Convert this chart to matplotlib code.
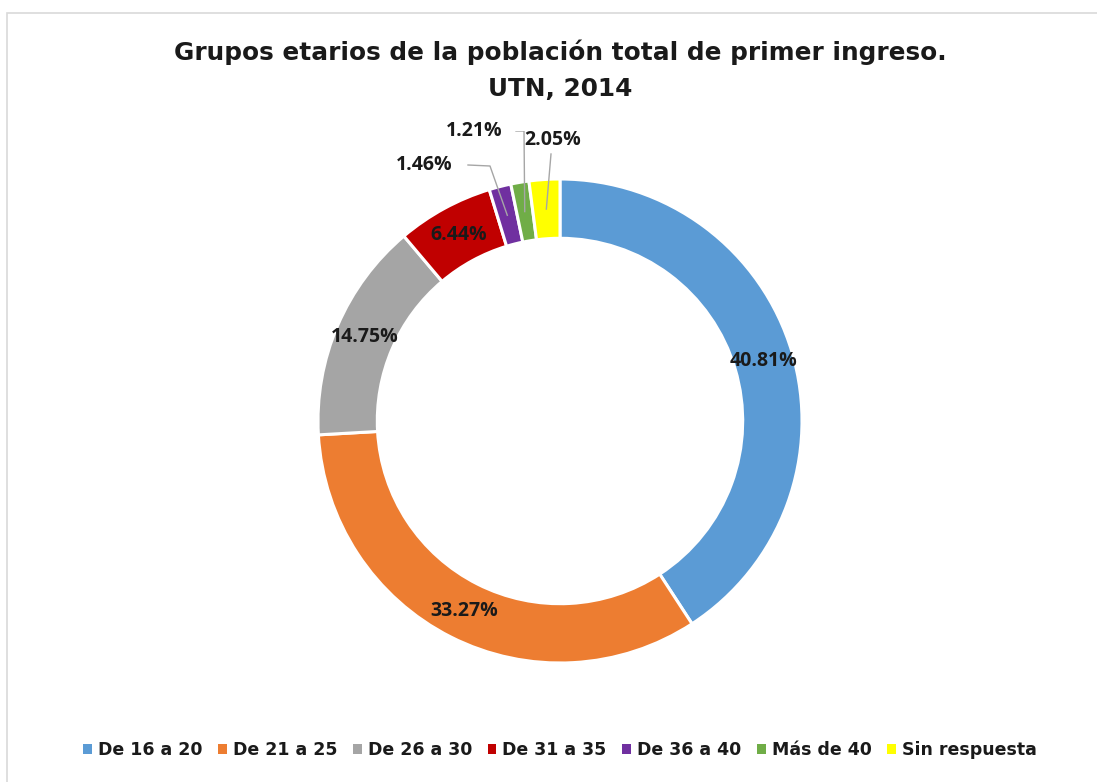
import matplotlib
matplotlib.use("Agg")
import matplotlib.pyplot as plt
import numpy as np
from matplotlib.patches import Rectangle

categories = ["De 16 a 20", "De 21 a 25", "De 26 a 30", "De 31 a 35",
              "De 36 a 40", "Más de 40", "Sin respuesta"]
values = [40.81, 33.27, 14.75, 6.44, 1.46, 1.21, 2.05]
labels = ["40.81%", "33.27%", "14.75%", "6.44%", "1.46%", "1.21%", "2.05%"]
colors = ["#5B9BD5", "#ED7D31", "#A5A5A5", "#C00000", "#7030A0", "#70AD47", "#FFFF00"]

W, H = 1097, 782
fig = plt.figure(figsize=(W / 100, H / 100), dpi=100)
fig.patch.set_facecolor("white")

# frame
fig.patches.append(Rectangle((7 / W, -0.05), 1.2, (H - 13) / H + 0.05,
                             transform=fig.transFigure, fill=False,
                             edgecolor="#D9D9D9", linewidth=1.2))

cx, cy, R = 560, 421, 242
L = 1.2
half = R * L
ax = fig.add_axes([(cx - half) / W, (H - cy - half) / H, 2 * half / W, 2 * half / H])

ring = 0.245
wedges, _ = ax.pie(values, colors=colors, startangle=90, counterclock=False,
                   radius=1.0, wedgeprops=dict(width=ring, edgecolor="white", linewidth=2.2))
ax.set_xlim(-L, L)
ax.set_ylim(-L, L)
ax.set_aspect("equal")
ax.axis("off")

lab_font = dict(fontfamily="Open Sans", fontweight="bold", fontsize=14, color="#1a1a1a")
mid_r = 1 - ring / 2
for i, w in enumerate(wedges):
    ang = np.deg2rad((w.theta1 + w.theta2) / 2)
    x, y = mid_r * np.cos(ang), mid_r * np.sin(ang)
    if i < 4:
        ax.text(x, y, labels[i], ha="center", va="center", **lab_font)

def mid_point(w, r=mid_r):
    a = np.deg2rad((w.theta1 + w.theta2) / 2)
    return r * np.cos(a), r * np.sin(a)

def px(xp, yp):
    return (xp - cx) / R, (cy - yp) / R

lc = "#A6A6A6"
# 1.46%
x0, y0 = mid_point(wedges[4])
tx, ty = px(424, 165)
ax.text(tx, ty, labels[4], ha="center", va="center", **lab_font)
ax.plot([px(468, 165)[0], px(490, 166)[0], x0], [px(468, 165)[1], px(490, 166)[1], y0],
        color=lc, lw=1)
# 1.21%
x0, y0 = mid_point(wedges[5])
tx, ty = px(474, 131)
ax.text(tx, ty, labels[5], ha="center", va="center", **lab_font)
ax.plot([px(516, 131)[0], px(524, 131)[0], x0], [px(516, 131)[1], px(524, 131)[1], y0],
        color=lc, lw=1)
# 2.05%
x0, y0 = mid_point(wedges[6])
tx, ty = px(553, 140)
ax.text(tx, ty, labels[6], ha="center", va="center", **lab_font)
ax.plot([px(551, 154)[0], x0], [px(551, 154)[1], y0], color=lc, lw=1)

title_font = dict(fontfamily="DejaVu Sans", fontweight="bold", fontsize=17.8, color="#1a1a1a")
fig.text(560 / W, 1 - 52 / H, "Grupos etarios de la población total de primer ingreso.",
         ha="center", va="center", **title_font)
fig.text(560 / W, 1 - 89 / H, "UTN, 2014", ha="center", va="center", **title_font)

handles = [Rectangle((0, 0), 1, 1, facecolor=c, edgecolor="none") for c in colors]
leg = fig.legend(handles, categories, loc="center", bbox_to_anchor=(560 / W, 1 - 750 / H),
                 ncol=7, frameon=False, handlelength=0.5, handleheight=0.5,
                 handletextpad=0.35, columnspacing=0.9,
                 prop=dict(family="DejaVu Sans", weight="bold", size=12.5))
for t in leg.get_texts():
    t.set_color("#1a1a1a")

fig.savefig("out.png", dpi=100, facecolor="white")
